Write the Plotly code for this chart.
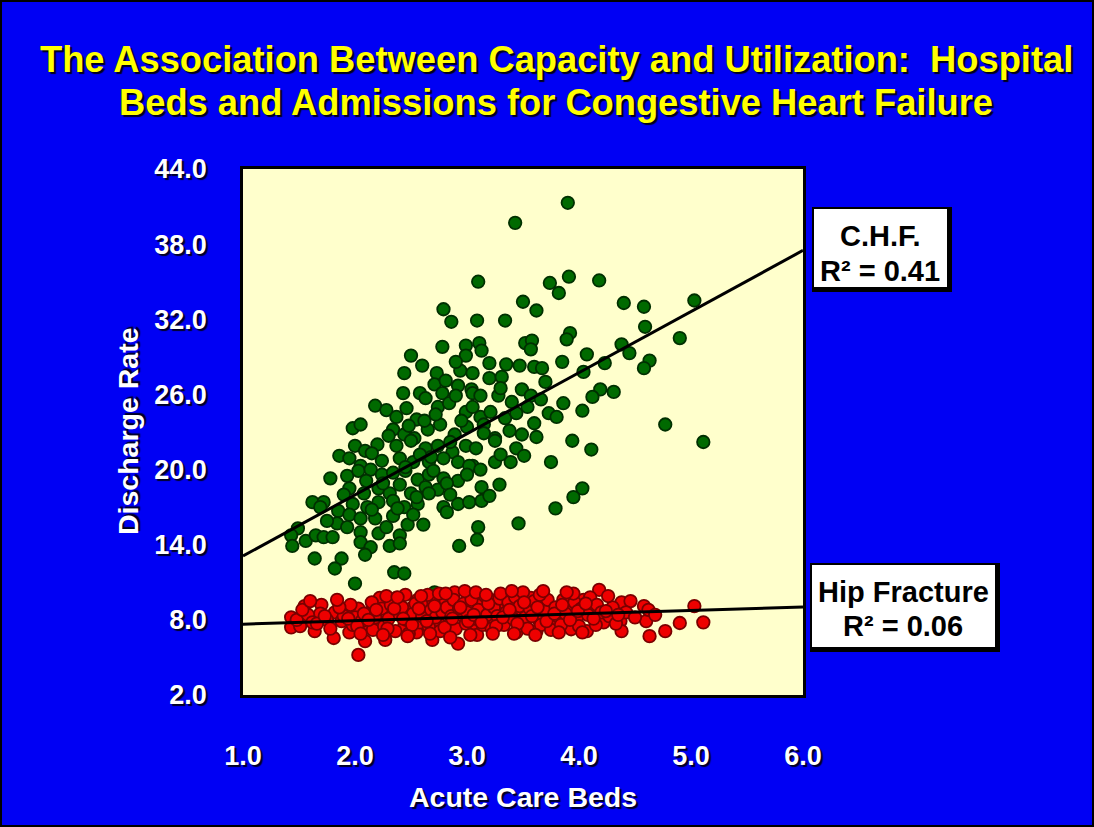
import plotly.graph_objects as go

# ---- data -----------------------------------------------------------------
# Congestive heart failure: acute care beds vs discharge rate
chf_beds = [
    3.90, 3.43, 3.10, 3.91, 4.18, 3.74, 3.82, 3.50, 3.62, 2.79, 2.86, 3.09, 3.34, 4.40, 4.58, 5.03,
    4.59, 4.90, 3.92, 3.89, 2.78, 2.99, 3.11, 3.52, 3.58, 3.57, 2.50, 2.99, 3.13, 4.38, 4.45, 4.07,
    4.63, 4.58, 4.23, 3.85, 4.04, 2.44, 2.73, 2.94, 3.05, 3.20, 3.35, 3.47, 3.60, 3.67, 2.71, 2.81,
    2.92, 3.04, 3.20, 3.31, 2.43, 2.58, 2.63, 2.78, 3.05, 3.12, 3.28, 3.49, 3.57, 3.66, 4.19, 4.31,
    4.12, 3.86, 4.03, 3.73, 3.80, 4.77, 5.11, 2.18, 2.28, 2.46, 2.37, 2.74, 2.84, 2.99, 3.12, 3.21,
    3.34, 3.44, 3.54, 1.98, 2.05, 2.34, 2.44, 2.53, 2.65, 2.76, 2.89, 3.00, 3.15, 3.25, 3.38, 3.49,
    3.62, 3.94, 4.11, 2.00, 2.09, 2.20, 2.37, 2.50, 2.63, 2.74, 2.87, 2.99, 3.08, 3.25, 3.44, 1.86,
    1.95, 2.05, 2.24, 2.40, 2.52, 2.66, 2.79, 2.92, 3.05, 3.25, 3.39, 3.51, 3.75, 1.93, 2.03, 2.14,
    2.24, 2.34, 2.45, 2.56, 2.66, 2.79, 2.92, 3.02, 3.12, 1.95, 2.08, 2.21, 2.31, 2.40, 2.50, 2.63,
    2.74, 2.82, 3.13, 3.29, 4.03, 3.95, 3.79, 1.62, 1.72, 1.69, 1.85, 1.98, 2.11, 2.21, 2.34, 2.44,
    2.56, 2.66, 2.79, 2.92, 3.02, 3.13, 2.82, 1.95, 2.05, 2.18, 2.34, 2.47, 2.61, 1.84, 1.93, 1.49,
    1.43, 1.56, 1.44, 1.65, 1.72, 1.80, 2.05, 2.21, 2.40, 2.05, 2.14, 2.31, 2.40, 2.09, 1.64, 1.88,
    1.82, 2.35, 2.44, 2.00, 3.10, 3.09, 2.93, 3.46, 2.29, 2.71, 2.55, 2.62, 2.90, 2.68, 2.85, 3.15,
    2.30, 2.58, 2.95, 3.30, 3.60, 2.15, 2.45, 2.70, 3.00, 2.25, 2.55, 2.85, 3.20, 2.15, 1.90, 1.78,
    2.10, 2.38, 2.48, 2.72, 3.05, 3.40, 3.70, 2.90, 3.30, 2.60, 1.75, 2.28, 2.52,
]
chf_rate = [
    41.3, 39.7, 35.0, 35.4, 35.1, 34.9, 34.1, 33.4, 32.7, 32.8, 31.8, 31.9, 31.9, 33.3, 33.0, 33.5,
    31.4, 30.5, 30.9, 30.4, 29.8, 29.9, 30.1, 30.1, 30.3, 29.6, 29.1, 29.1, 29.5, 30.0, 29.3, 29.2,
    28.7, 28.1, 28.5, 28.6, 27.8, 27.7, 27.7, 27.9, 27.7, 28.5, 28.4, 28.3, 28.2, 28.1, 26.8, 27.1,
    26.7, 26.4, 27.3, 27.4, 26.1, 26.1, 25.7, 26.1, 26.1, 25.9, 25.9, 26.4, 25.9, 25.6, 26.4, 26.2,
    25.8, 25.3, 24.7, 24.5, 24.2, 23.6, 22.2, 25.1, 24.75, 24.9, 24.2, 25.0, 25.3, 24.6, 24.2, 24.6,
    24.1, 24.5, 25.0, 23.3, 23.6, 23.2, 22.8, 22.5, 23.2, 23.6, 22.8, 23.4, 23.6, 22.5, 23.1, 22.8,
    22.6, 22.3, 21.6, 21.9, 21.5, 22.0, 21.9, 22.3, 21.7, 21.9, 21.4, 21.9, 21.7, 22.3, 21.7, 21.1,
    20.9, 20.3, 20.7, 20.9, 20.6, 20.6, 20.9, 20.6, 20.3, 20.6, 20.6, 21.1, 20.6, 19.5, 19.9, 20.0,
    19.6, 19.75, 19.9, 19.2, 19.6, 19.3, 19.1, 20.3, 20.0, 18.5, 18.1, 18.5, 18.1, 18.8, 18.1, 18.6,
    18.4, 18.9, 18.6, 18.8, 18.5, 17.8, 16.9, 17.4, 17.4, 17.0, 16.7, 17.25, 17.0, 17.4, 17.5, 17.0,
    17.25, 18.1, 17.0, 17.25, 17.4, 17.5, 16.6, 16.4, 16.1, 16.1, 16.3, 15.6, 15.6, 15.7, 15.4, 15.3,
    14.75, 14.3, 13.9, 14.75, 14.6, 14.6, 15.0, 14.9, 14.75, 14.2, 13.8, 13.9, 14.1, 13.2, 12.9, 12.9,
    12.1, 11.8, 11.7, 10.9, 15.4, 14.4, 13.9, 15.7, 9.6, 10.2, 24.0, 23.9, 25.9, 21.0, 22.2, 22.9,
    22.7, 21.2, 23.9, 21.2, 23.7, 21.3, 20.2, 19.9, 19.6, 18.9, 17.8, 18.0, 17.9, 16.8, 18.0, 19.3,
    19.1, 16.9, 23.5, 24.4, 25.0, 25.4, 27.0, 28.6, 26.5, 28.3, 15.9, 15.4, 16.4,
]

# Hip fracture: acute care beds vs discharge rate
hip_beds = [
    1.43, 1.43, 1.55, 1.51, 1.64, 1.70, 1.69, 1.81, 1.82, 1.92, 1.95, 2.03, 2.03, 2.11, 2.09, 2.13,
    2.22, 2.27, 2.21, 2.34, 2.37, 2.44, 2.50, 2.56, 2.55, 2.63, 2.69, 2.74, 2.79, 2.89, 2.92, 2.95,
    3.02, 3.05, 3.12, 3.21, 3.25, 3.31, 3.39, 3.44, 3.49, 3.57, 3.62, 3.67, 3.77, 3.86, 3.91, 3.93,
    4.04, 4.07, 4.12, 4.18, 4.22, 4.37, 4.38, 4.38, 4.46, 4.58, 4.60, 4.63, 4.77, 4.90, 5.03, 5.11,
    1.48, 1.58, 1.62, 1.75, 1.78, 1.88, 1.90, 1.98, 2.00, 2.06, 2.08, 2.16, 2.18, 2.24, 2.26, 2.30,
    2.32, 2.36, 2.40, 2.42, 2.46, 2.48, 2.52, 2.54, 2.58, 2.60, 2.62, 2.66, 2.68, 2.70, 2.72, 2.76,
    2.78, 2.82, 2.84, 2.86, 2.88, 2.90, 2.93, 2.97, 2.99, 3.00, 3.04, 3.07, 3.09, 3.10, 3.14, 3.16,
    3.18, 3.22, 3.24, 3.27, 3.29, 3.33, 3.35, 3.37, 3.41, 3.43, 3.46, 3.47, 3.52, 3.54, 3.56, 3.60,
    3.64, 3.66, 3.70, 3.72, 3.75, 3.79, 3.81, 3.84, 3.88, 3.96, 3.98, 4.00, 4.02, 4.08, 4.10, 4.15,
    4.16, 4.20, 4.27, 4.30, 4.33, 4.42, 4.50, 4.62, 4.68, 1.96, 2.15, 2.28, 2.45, 2.65, 2.75, 2.98,
    3.08, 3.30, 3.50, 3.65, 3.95,
    1.53, 1.66, 1.73, 1.86, 1.94, 2.02, 2.12, 2.19, 2.29, 2.35, 2.43, 2.51, 2.57, 2.64, 2.71, 2.80,
    2.87, 2.94, 3.01, 3.06, 3.13, 3.19, 3.26, 3.32, 3.38, 3.45, 3.51, 3.58, 3.63, 3.71, 3.78, 3.85,
    3.92, 3.99, 4.06, 4.13, 4.24, 4.35, 2.05, 2.25, 2.47, 2.67, 2.85, 3.03, 3.23, 3.42, 3.61, 3.82,
    4.03, 1.60, 1.84, 2.38, 2.59, 2.81, 3.17, 3.40, 3.68, 3.89, 4.26,
]
hip_rate = [
    8.2, 7.4, 9.1, 7.5, 7.1, 9.2, 8.5, 6.55, 8.6, 8.8, 7.0, 5.2, 8.9, 7.4, 6.3, 8.6,
    9.75, 6.4, 7.8, 8.6, 9.75, 7.5, 8.9, 9.6, 7.0, 8.6, 6.4, 7.8, 9.5, 10.2, 6.1, 8.4,
    10.0, 7.25, 9.2, 9.6, 7.8, 8.9, 10.0, 7.0, 8.6, 9.75, 7.1, 9.2, 7.8, 9.6, 8.9, 7.25,
    9.6, 7.1, 8.9, 10.4, 7.8, 7.9, 7.1, 9.4, 9.5, 9.1, 7.9, 6.7, 7.1, 7.75, 9.1, 7.8,
    8.0, 8.4, 7.8, 8.0, 7.3, 7.9, 8.3, 7.6, 8.2, 7.9, 8.5, 7.2, 8.2, 8.9, 7.5, 8.1,
    9.2, 7.1, 8.4, 9.0, 8.0, 6.9, 8.5, 9.3, 7.8, 8.3, 9.1, 7.4, 8.8, 9.4, 8.2, 7.1,
    8.6, 9.0, 7.6, 8.3, 9.6, 7.3, 8.9, 9.3, 7.7, 8.6, 9.6, 8.1, 6.8, 8.8, 7.6, 9.9,
    8.4, 7.3, 9.0, 8.3, 9.7, 7.6, 8.6, 9.4, 8.1, 9.8, 7.5, 9.1, 8.2, 7.3, 8.9, 9.5,
    8.0, 7.6, 8.7, 9.6, 7.2, 9.0, 8.3, 7.6, 8.5, 9.4, 8.1, 7.5, 8.9, 8.4, 9.8, 7.6,
    9.2, 8.6, 8.3, 9.0, 7.7, 8.6, 8.2, 8.8, 8.4, 9.2, 9.4, 9.9, 10.0, 10.0, 10.1, 10.3,
    10.2, 10.1, 10.2, 10.0, 10.1,
    8.8, 7.7, 8.3, 9.0, 8.1, 7.5, 8.0, 8.8, 7.3, 8.9, 8.1, 7.6, 8.9, 7.9, 9.1, 7.4,
    8.1, 9.0, 7.9, 8.4, 7.8, 9.3, 7.5, 8.2, 8.8, 7.7, 9.4, 8.3, 9.0, 7.9, 8.5, 9.2,
    8.0, 8.7, 9.3, 8.1, 8.7, 8.4, 6.9, 6.8, 6.7, 6.9, 6.6, 6.8, 6.9, 6.9, 6.8, 7.0,
    7.0, 9.5, 9.6, 9.8, 9.9, 10.1, 10.0, 10.3, 10.3, 10.2, 9.9,
]

# least-squares fits (intercept, slope) and their R squared
chf_fit = (8.22, 4.88)
hip_fit = (7.38, 0.275)
chf_r2 = 0.41
hip_r2 = 0.06

x_range = [1.0, 6.0]
y_range = [2.0, 44.0]
x_ticks = [1.0, 2.0, 3.0, 4.0, 5.0, 6.0]
y_ticks = [2.0, 8.0, 14.0, 20.0, 26.0, 32.0, 38.0, 44.0]

# ---- layout geometry (pixels of the 1094 x 827 page) ------------------------
W, H = 1094, 827
L, R, T, B = 243, 803, 169, 695


def xp(px):
    return (px - L) / (R - L)


def yp(py):
    return (B - py) / (B - T)


FONT = "Liberation Sans, Arial, sans-serif"
BLUE = "#0000f4"
SHADOW_W = "2px 2px 1px rgba(0,0,0,0.85)"

fig = go.Figure()

fig.add_trace(go.Scatter(
    x=chf_beds, y=chf_rate, mode="markers", name="C.H.F.",
    marker=dict(size=12.5, color="#006a00", line=dict(color="#003000", width=1.8)),
))
fig.add_trace(go.Scatter(
    x=hip_beds, y=hip_rate, mode="markers", name="Hip Fracture",
    marker=dict(size=12.5, color="#ee0000", line=dict(color="#7a0000", width=1.8)),
))

for b0, b1 in (chf_fit, hip_fit):
    fig.add_trace(go.Scatter(
        x=x_range, y=[b0 + b1 * x_range[0], b0 + b1 * x_range[1]],
        mode="lines", line=dict(color="black", width=3), hoverinfo="skip",
    ))

axis_font = dict(family=FONT, size=27, color="white", weight="bold", shadow=SHADOW_W)

fig.update_xaxes(
    range=x_range, tickvals=x_ticks, ticktext=[f"{v:.1f}" for v in x_ticks],
    showgrid=False, zeroline=False, ticks="", ticklabelstandoff=35,
    showline=True, mirror=True, linecolor="black", linewidth=2.5,
    tickfont=axis_font,
)
fig.update_yaxes(
    range=y_range, tickvals=y_ticks, ticktext=[f"{v:.1f}" for v in y_ticks],
    showgrid=False, zeroline=False, ticks="", ticklabelstandoff=28,
    showline=True, mirror=True, linecolor="black", linewidth=2.5,
    tickfont=axis_font,
)

shapes = []
# framed label boxes: black backing offset to the lower right, white face
for (x0, y0, x1, y1) in [(812, 207, 952, 292), (810, 563, 1000, 652)]:
    shapes.append(dict(type="rect", xref="paper", yref="paper",
                       x0=xp(x0), x1=xp(x1), y0=yp(y1), y1=yp(y0),
                       fillcolor="black", line=dict(width=0), layer="above"))
    shapes.append(dict(type="rect", xref="paper", yref="paper",
                       x0=xp(x0 + 2), x1=xp(x1 - 5), y0=yp(y1 - 5), y1=yp(y0 + 2),
                       fillcolor="white", line=dict(width=0), layer="above"))
# thin frame around the whole page
shapes.append(dict(type="rect", xref="paper", yref="paper",
                   x0=xp(1), x1=xp(W - 1), y0=yp(H - 1), y1=yp(1),
                   line=dict(color="black", width=2), layer="above"))

annotations = []


def text_at(px, py, text, size, color, shadow=None, angle=0):
    f = dict(family=FONT, size=size, color=color, weight="bold")
    if shadow:
        f["shadow"] = shadow
    annotations.append(dict(
        x=xp(px), y=yp(py), xref="paper", yref="paper", text=text,
        showarrow=False, xanchor="center", yanchor="middle", font=f, textangle=angle,
    ))


title_shadow = "2px 2px 1px rgba(0,0,0,0.9)"
text_at(556, 60, "The Association Between Capacity and Utilization:\u00a0 Hospital", 36.3, "#ffff00", title_shadow)
text_at(556, 102, "Beds and Admissions for Congestive Heart Failure", 36.3, "#ffff00", title_shadow)
text_at(523, 797, "Acute Care Beds", 28.5, "white", SHADOW_W)
text_at(128, 431, "Discharge Rate", 28.5, "white", SHADOW_W, angle=-90)

text_at(880, 236, "C.H.F.", 29, "black")
text_at(880, 271, f"R\u00b2 = {chf_r2:.2f}", 29, "black")
text_at(903, 592, "Hip Fracture", 29, "black")
text_at(903, 626, f"R\u00b2 = {hip_r2:.2f}", 29, "black")

fig.update_layout(
    width=W, height=H, showlegend=False,
    margin=dict(l=L, r=W - R, t=T, b=H - B, pad=0),
    paper_bgcolor=BLUE, plot_bgcolor="#ffffcc",
    shapes=shapes, annotations=annotations,
    hovermode="closest",
)

fig.write_html("out.html")
